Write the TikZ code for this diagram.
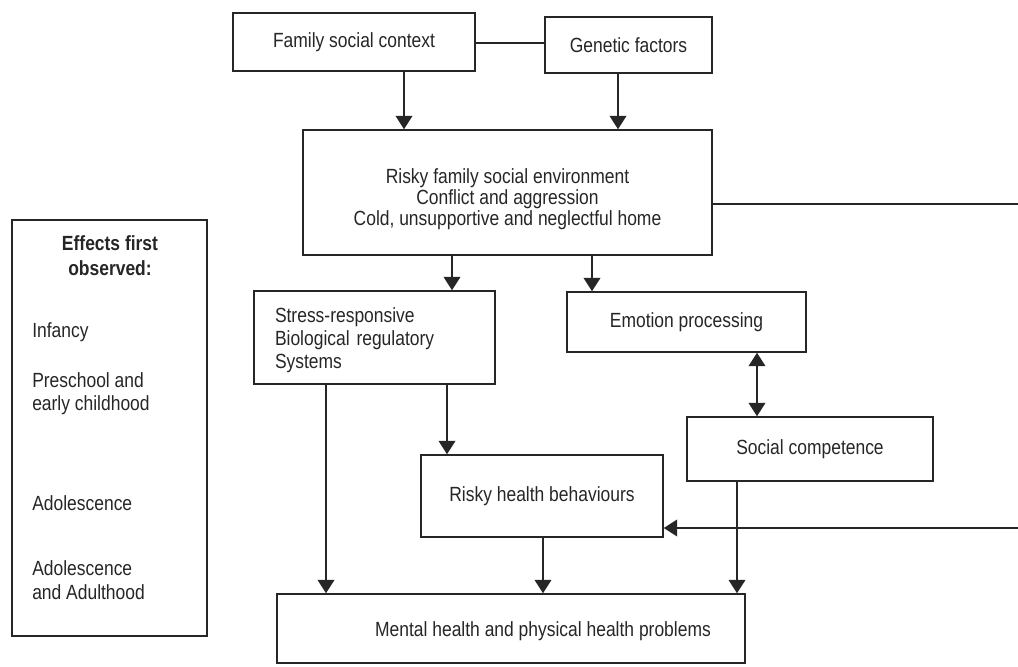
\documentclass[tikz,border=0pt]{standalone}
\usepackage{fontspec}
\setmainfont{Liberation Sans}[FakeStretch=0.85]
\usetikzlibrary{arrows.meta}
\definecolor{ink}{HTML}{262626}
\begin{document}
\begin{tikzpicture}[x=0.75pt,y=-0.75pt,
  font=\fontsize{15.4}{17}\selectfont,
  box/.style={draw=ink, line width=1.15pt, inner sep=0pt, text=ink, align=center},
  sz/.style 2 args={minimum width=#1*0.75pt, minimum height=#2*0.75pt},
  txt/.style={text=ink, inner sep=0pt, align=left},
  link/.style={draw=ink, line width=1.15pt},
  arr/.style={link, -{Triangle[length=10pt,width=12.5pt]}},
  twoway/.style={link, {Triangle[length=10pt,width=12.5pt]}-{Triangle[length=10pt,width=12.5pt]}},
]
\useasboundingbox (0,0) rectangle (1018,667);

% boxes
\node[box, sz={242}{58}] (fsc) at (354,42) {Family social context};
\node[box, sz={167}{56}] (gen) at (628.5,45) {Genetic factors};
\node[box, sz={409}{125}, font=\fontsize{15.4}{15.75}\selectfont] (risky) at (507.5,192.5)
  {\rule{0pt}{21pt}Risky family social environment\\Conflict and aggression\\Cold, unsupportive and neglectful home};
\node[box, sz={241}{93}, align=left, inner xsep=15.75pt, text width=149.25pt,
      font=\fontsize{15.4}{17.25}\selectfont] (stress) at (374.5,337.5)
  {\rule{0pt}{15pt}Stress-responsive\\Biological regulatory\\Systems};
\node[box, sz={239}{60}] (emo) at (686.5,322) {Emotion processing};
\node[box, sz={246}{64}] (soc) at (810,449) {Social competence};
\node[box, sz={242}{82}] (rhb) at (542,496) {Risky health behaviours};
\node[box, sz={468}{69}] (mh) at (511,628.5) {};
\node[txt] (mhtext) at (543,631) {Mental health and physical health problems};

% developmental stages
\node[box, sz={195}{416}] (stages) at (109.5,428) {};
\node[txt, align=center, font=\fontsize{15.4}{18.75}\selectfont\bfseries] (head) at (110,255.5)
  {Effects first\\observed:};
\node[txt, anchor=west] (s1) at (32,332) {Infancy};
\node[txt, anchor=west, font=\fontsize{15.4}{17.25}\selectfont] (s2) at (32,393.5) {Preschool and\\early childhood};
\node[txt, anchor=west] (s3) at (32,503) {Adolescence};
\node[txt, anchor=west, font=\fontsize{15.4}{17.6}\selectfont] (s4) at (32,580) {Adolescence\\and Adulthood};

% connector columns
\coordinate (cA) at (404,0);
\coordinate (cB) at (618,0);
\coordinate (cC) at (452,0);
\coordinate (cD) at (592,0);
\coordinate (cE) at (757,0);
\coordinate (cF) at (447,0);
\coordinate (cG) at (326,0);
\coordinate (cH) at (543,0);
\coordinate (cI) at (737,0);
\coordinate (r1) at (1018,204);
\coordinate (r2) at (1018,528);

% connectors
\draw[link] (fsc.east |- 0,43) -- (gen.west |- 0,43);
\draw[arr] (fsc.south -| cA) -- (risky.north -| cA);
\draw[arr] (gen.south -| cB) -- (risky.north -| cB);
\draw[link] (risky.east |- r1) -- (r1);
\draw[arr] (risky.south -| cC) -- (stress.north -| cC);
\draw[arr] (risky.south -| cD) -- (emo.north -| cD);
\draw[twoway] (emo.south -| cE) -- (soc.north -| cE);
\draw[arr] (stress.south -| cF) -- (rhb.north -| cF);
\draw[arr] (stress.south -| cG) -- (mh.north -| cG);
\draw[arr] (rhb.south -| cH) -- (mh.north -| cH);
\draw[arr] (soc.south -| cI) -- (mh.north -| cI);
\draw[arr] (r2) -- (rhb.east |- r2);
\end{tikzpicture}
\end{document}
